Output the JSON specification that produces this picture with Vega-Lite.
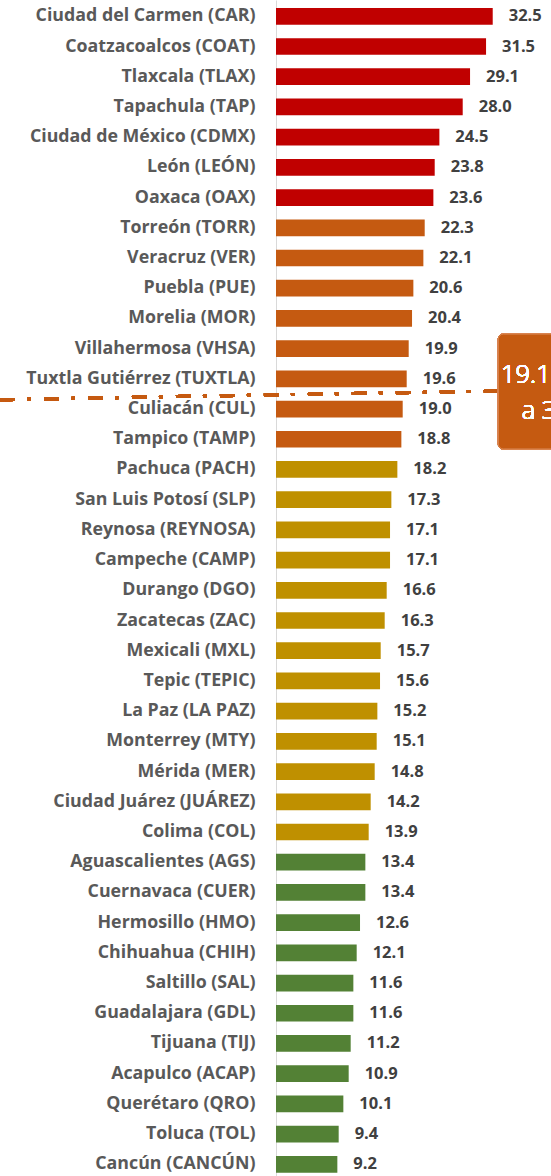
{
  "$schema": "https://vega.github.io/schema/vega-lite/v6.json",
  "autosize": {"type": "none"},
  "width": 275,
  "height": 1176,
  "padding": {"left": 276, "right": 0, "top": 0, "bottom": 0},
  "background": "white",
  "config": {"view": {"stroke": null}},
  "data": {
    "values": [
      {"ciudad": "Ciudad del Carmen (CAR)", "valor": 32.5, "grupo": "Alto"},
      {"ciudad": "Coatzacoalcos (COAT)", "valor": 31.5, "grupo": "Alto"},
      {"ciudad": "Tlaxcala (TLAX)", "valor": 29.1, "grupo": "Alto"},
      {"ciudad": "Tapachula (TAP)", "valor": 28.0, "grupo": "Alto"},
      {"ciudad": "Ciudad de México (CDMX)", "valor": 24.5, "grupo": "Alto"},
      {"ciudad": "León (LEÓN)", "valor": 23.8, "grupo": "Alto"},
      {"ciudad": "Oaxaca (OAX)", "valor": 23.6, "grupo": "Alto"},
      {"ciudad": "Torreón (TORR)", "valor": 22.3, "grupo": "Medio alto"},
      {"ciudad": "Veracruz (VER)", "valor": 22.1, "grupo": "Medio alto"},
      {"ciudad": "Puebla (PUE)", "valor": 20.6, "grupo": "Medio alto"},
      {"ciudad": "Morelia (MOR)", "valor": 20.4, "grupo": "Medio alto"},
      {"ciudad": "Villahermosa (VHSA)", "valor": 19.9, "grupo": "Medio alto"},
      {"ciudad": "Tuxtla Gutiérrez (TUXTLA)", "valor": 19.6, "grupo": "Medio alto"},
      {"ciudad": "Culiacán (CUL)", "valor": 19.0, "grupo": "Medio alto"},
      {"ciudad": "Tampico (TAMP)", "valor": 18.8, "grupo": "Medio alto"},
      {"ciudad": "Pachuca (PACH)", "valor": 18.2, "grupo": "Medio"},
      {"ciudad": "San Luis Potosí (SLP)", "valor": 17.3, "grupo": "Medio"},
      {"ciudad": "Reynosa (REYNOSA)", "valor": 17.1, "grupo": "Medio"},
      {"ciudad": "Campeche (CAMP)", "valor": 17.1, "grupo": "Medio"},
      {"ciudad": "Durango (DGO)", "valor": 16.6, "grupo": "Medio"},
      {"ciudad": "Zacatecas (ZAC)", "valor": 16.3, "grupo": "Medio"},
      {"ciudad": "Mexicali (MXL)", "valor": 15.7, "grupo": "Medio"},
      {"ciudad": "Tepic (TEPIC)", "valor": 15.6, "grupo": "Medio"},
      {"ciudad": "La Paz (LA PAZ)", "valor": 15.2, "grupo": "Medio"},
      {"ciudad": "Monterrey (MTY)", "valor": 15.1, "grupo": "Medio"},
      {"ciudad": "Mérida (MER)", "valor": 14.8, "grupo": "Medio"},
      {"ciudad": "Ciudad Juárez (JUÁREZ)", "valor": 14.2, "grupo": "Medio"},
      {"ciudad": "Colima (COL)", "valor": 13.9, "grupo": "Medio"},
      {"ciudad": "Aguascalientes (AGS)", "valor": 13.4, "grupo": "Bajo"},
      {"ciudad": "Cuernavaca (CUER)", "valor": 13.4, "grupo": "Bajo"},
      {"ciudad": "Hermosillo (HMO)", "valor": 12.6, "grupo": "Bajo"},
      {"ciudad": "Chihuahua (CHIH)", "valor": 12.1, "grupo": "Bajo"},
      {"ciudad": "Saltillo (SAL)", "valor": 11.6, "grupo": "Bajo"},
      {"ciudad": "Guadalajara (GDL)", "valor": 11.6, "grupo": "Bajo"},
      {"ciudad": "Tijuana (TIJ)", "valor": 11.2, "grupo": "Bajo"},
      {"ciudad": "Acapulco (ACAP)", "valor": 10.9, "grupo": "Bajo"},
      {"ciudad": "Querétaro (QRO)", "valor": 10.1, "grupo": "Bajo"},
      {"ciudad": "Toluca (TOL)", "valor": 9.4, "grupo": "Bajo"},
      {"ciudad": "Cancún (CANCÚN)", "valor": 9.2, "grupo": "Bajo"}
    ]
  },
  "resolve": {"scale": {"y": "independent"}},
  "layer": [
    {
      "encoding": {
        "y": {
          "field": "ciudad", "type": "nominal", "sort": null,
          "scale": {"range": [0, 1180.6], "paddingInner": 0.447, "paddingOuter": 0.263},
          "axis": {
            "title": null, "ticks": false, "labelPadding": 21, "labelLimit": 400,
            "labelFont": "Open Sans", "labelFontWeight": "bold", "labelFontSize": 17.8,
            "labelColor": "#595959", "domainColor": "#D9D9D9", "domainWidth": 1
          }
        },
        "x": {
          "field": "valor", "type": "quantitative",
          "scale": {"domain": [0, 41.24], "nice": false, "zero": true},
          "axis": null
        }
      },
      "layer": [
        {
          "mark": {"type": "bar"},
          "encoding": {
            "color": {
              "field": "grupo", "type": "nominal",
              "scale": {"domain": ["Alto", "Medio alto", "Medio", "Bajo"], "range": ["#C00000", "#C55A11", "#BF9000", "#538135"]},
              "legend": null
            }
          }
        },
        {
          "mark": {"type": "text", "align": "left", "baseline": "middle", "dx": 16, "font": "Open Sans", "fontWeight": "bold", "fontSize": 16.5, "color": "#404040"},
          "encoding": {"text": {"field": "valor", "type": "quantitative", "format": ".1f"}}
        }
      ]
    },
    {
      "layer": [
        {
          "mark": {"type": "rule", "color": "#C55A11", "strokeWidth": 3, "strokeDash": [15, 12, 4, 13]},
          "encoding": {
            "x": {"datum": -41.39, "type": "quantitative", "scale": {"domain": [0, 41.24], "nice": false}},
            "x2": {"datum": 33.44},
            "y": {"datum": 12.69, "type": "quantitative", "scale": {"domain": [-0.54, 38.54], "range": [0, 1180.6], "nice": false, "zero": false}, "axis": null},
            "y2": {"datum": 12.40}
          }
        },
        {
          "mark": {"type": "rect", "color": "#C55A11", "cornerRadius": 5, "stroke": "#D98550", "strokeWidth": 1},
          "encoding": {
            "x": {"datum": 33.34, "type": "quantitative"},
            "x2": {"datum": 46},
            "y": {"datum": 10.52, "type": "quantitative"},
            "y2": {"datum": 14.32}
          }
        },
        {
          "mark": {"type": "text", "align": "left", "baseline": "alphabetic", "font": "Open Sans", "fontWeight": 300, "fontSize": 25.5, "color": "white"},
          "encoding": {
            "x": {"datum": 33.74, "type": "quantitative"},
            "y": {"datum": 12.15, "type": "quantitative"},
            "text": {"value": "19.1"}
          }
        },
        {
          "mark": {"type": "text", "align": "left", "baseline": "alphabetic", "font": "Open Sans", "fontWeight": 300, "fontSize": 25.5, "color": "white"},
          "encoding": {
            "x": {"datum": 36.85, "type": "quantitative"},
            "y": {"datum": 13.33, "type": "quantitative"},
            "text": {"value": "a 32.5"}
          }
        }
      ]
    }
  ]
}
